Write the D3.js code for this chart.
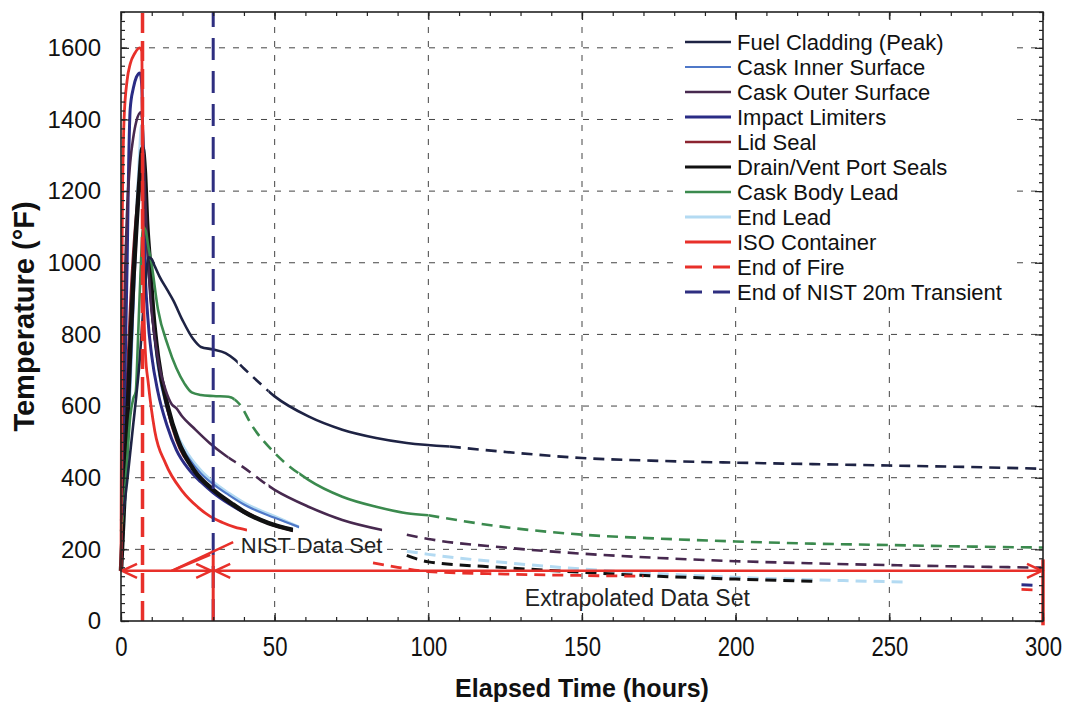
<!DOCTYPE html>
<html>
<head>
<meta charset="utf-8">
<script src="https://cdn.jsdelivr.net/npm/d3@7"></script>
<style>
  body { margin: 0; background: #fff; }
  svg { display: block; font-family: Arial, "Liberation Sans", sans-serif; }
</style>
</head>
<body>
<script>
// Cask component temperatures during / after the tunnel fire
// solid = NIST data set, dashed = extrapolated data set

// axis ticks
const xTicks = [0, 50, 100, 150, 200, 250, 300];
const yTicks = [0, 200, 400, 600, 800, 1000, 1200, 1400, 1600];

// marker hours / temperature of the data-set arrows
const endOfFireHour = 7;
const endOfNistHour = 30;
const lastHour = 300;
const arrowTemp = 140;

// [hours, temperature F]
const fuelCladding = [[0,280],[1,320],[2,390],[3,470],[4,550],[5,630],[6,720],[7,840],[8,950],[9,1015],[10,1010],[11,990],[12.5,962],[15,925],[17,895],[20,840],[23.5,787],[26,765],[30,758],[34,748],[37,730],[40,705],[45,665],[50,627],[61,571],[72,534],[83,511],[93,497],[107,487]];
const fuelCladdingExt = [[107,487],[125,472],[150,455],[175,447],[200,442],[225,438],[250,434],[275,430],[300,425]];

const caskInner = [[0,160],[1,300],[2,470],[3,660],[4,870],[5,1070],[6,1230],[7,1330],[7.6,1290],[8.3,1120],[9.3,950],[10.5,820],[12,710],[15,590],[18,515],[22,455],[26,412],[30,382],[35,352],[40,325],[50,288],[58,262]];
const caskInnerExt = [];

const caskOuter = [[0,150],[0.4,420],[0.8,700],[1.3,950],[2,1150],[3,1280],[4,1350],[5,1395],[6.5,1420],[7.1,1370],[7.8,1200],[8.6,1040],[9.6,900],[11,790],[12.5,710],[14.5,645],[16.5,605],[18,594],[20,570],[23.5,540],[28.8,497],[34,462],[39.5,431],[50,366],[61,319],[72,282],[85,254]];
const caskOuterExt = [[93,241],[100,229],[125,205],[150,188],[175,176],[200,167],[225,161],[250,156],[275,152],[300,149]];

const impactLimiters = [[0,140],[0.5,350],[1,560],[1.5,780],[2,1000],[2.5,1280],[3,1430],[4,1487],[5,1518],[6.2,1530],[6.8,1490],[7.2,1250],[7.8,1000],[8.7,850],[10,740],[12,640],[15,545],[18,478],[22,424],[26,388],[30,358],[35,328],[40,303],[48,274],[56,254]];
const impactLimitersExt = [[293,101],[297,100]];

const lidSeal = [[0,140],[0.5,280],[1,430],[2,680],[3,880],[4,1030],[5,1140],[6,1215],[7,1262],[7.8,1190],[8.8,1020],[10,870],[12,735],[15,595],[18,505],[24,420],[30,365],[36,327],[42,298],[48,272],[56,252]];
const lidSealExt = [];

const drainSeals = [[0,140],[1,330],[1.8,507],[3,760],[4,950],[5,1100],[6,1230],[7,1320],[7.8,1250],[8.5,1110],[9.3,1011],[10.5,860],[12,740],[15.3,595],[18.5,505],[24,418],[30,366],[36,328],[40,305],[48,273],[56,254]];
const drainSealsExt = [[93,183],[100,165],[125,149],[150,136],[175,125],[200,117],[225,111]];

const caskBodyLead = [[0,250],[1,330],[2,450],[3,570],[4,621],[4.8,640],[5.5,780],[6.3,960],[7.2,1100],[8,1090],[9,1040],[9.8,1005],[12,871],[15.3,768],[18,706],[20.7,662],[23,638],[26,631],[30,628],[35,626],[38.6,605],[42.8,543],[50,469],[61,394],[72,347],[83,319],[93,301],[100,295]];
const caskBodyLeadExt = [[100,295],[125,262],[150,241],[175,230],[200,222],[225,216],[250,212],[275,208],[300,205]];

const endLead = [[0,140],[1,280],[2,450],[3,650],[4,900],[5,1130],[6,1300],[6.7,1385],[7.3,1330],[8,1180],[9,980],[10.5,830],[12,722],[15,600],[18,525],[22,463],[26,420],[30,388],[35,357],[40,330],[50,292],[58,262]];
const endLeadExt = [[93,195],[100,186],[125,163],[150,145],[175,132],[200,122],[225,115],[255,109]];

const isoContainer = [[0,140],[0.15,600],[0.4,1100],[1,1400],[2,1510],[3,1555],[4.5,1585],[6,1600],[6.8,1590],[7.1,1200],[7.4,900],[8,740],[8.8,670],[11,530],[14.5,440],[20,362],[25,318],[29,292],[33,275],[37,262],[41,254]];
const isoContainerExt = [[82,162],[90,150],[100,138],[125,131],[150,127],[170,125],null,[293,88],[297,87]];

// hours where the "measured" curve is drawn dashed
const fuelCladdingGaps = [[38,48]];
const caskBodyLeadGaps = [[37,58]];
const caskOuterGaps = [[35,48]];

const series = [
  { name: "Fuel Cladding (Peak)", color: "#1e2344", width: 2.6, data: fuelCladding, ext: fuelCladdingExt, gaps: fuelCladdingGaps, z: 8 },
  { name: "Cask Inner Surface", color: "#4f78c8", width: 2.2, data: caskInner, ext: caskInnerExt, gaps: [], z: 1 },
  { name: "Cask Outer Surface", color: "#47294f", width: 2.6, data: caskOuter, ext: caskOuterExt, gaps: caskOuterGaps, z: 6 },
  { name: "Impact Limiters", color: "#2a2c85", width: 3, data: impactLimiters, ext: impactLimitersExt, gaps: [], z: 3 },
  { name: "Lid Seal", color: "#8c2430", width: 2.6, data: lidSeal, ext: lidSealExt, gaps: [], z: 2 },
  { name: "Drain/Vent Port Seals", color: "#111111", width: 4.5, data: drainSeals, ext: drainSealsExt, gaps: [], z: 5 },
  { name: "Cask Body Lead", color: "#3b8a4e", width: 2.6, data: caskBodyLead, ext: caskBodyLeadExt, gaps: caskBodyLeadGaps, z: 7 },
  { name: "End Lead", color: "#b3daf2", width: 3, data: endLead, ext: endLeadExt, gaps: [], z: 0 },
  { name: "ISO Container", color: "#e8302a", width: 2.8, data: isoContainer, ext: isoContainerExt, gaps: [], z: 9 }
];

const W = 1066, H = 703;
const svg = d3.select("body").append("svg")
  .attr("width", W)
  .attr("height", H);

const x = d3.scaleLinear().domain([0, 300]).range([121, 1043]);
const y = d3.scaleLinear().domain([0, 1700]).range([621, 12]);

// grid
const grid = svg.append("g").attr("stroke", "#444").attr("stroke-width", 1).attr("stroke-dasharray", "6,8");
grid.selectAll(".gx").data(xTicks.slice(1, -1)).enter().append("line")
  .attr("x1", d => x(d)).attr("x2", d => x(d))
  .attr("y1", y(0)).attr("y2", y(1700));
grid.selectAll(".gy").data(yTicks.slice(1)).enter().append("line")
  .attr("x1", x(0)).attr("x2", x(300))
  .attr("y1", d => y(d)).attr("y2", d => y(d));

// legend box hides the grid behind it
svg.append("rect").attr("x", 679).attr("y", 27).attr("width", 338).attr("height", 280).attr("fill", "#fff");

// curves
const line = d3.line()
  .defined(d => d)
  .x(d => x(d[0]))
  .y(d => y(d[1]))
  .curve(d3.curveMonotoneX);

const defs = svg.append("defs");
const curves = svg.append("g").attr("fill", "none").attr("stroke-linejoin", "round");

series.slice().sort((a, b) => a.z - b.z).forEach((s, i) => {
  const end = s.data[s.data.length - 1][0];
  // solid spans = [0,end] minus gaps
  const solid = [];
  let start = -5;
  s.gaps.forEach(g => { solid.push([start, g[0]]); start = g[1]; });
  solid.push([start, end]);

  const solidId = "solid" + i, dashId = "dash" + i;
  defs.append("clipPath").attr("id", solidId).selectAll("rect").data(solid).enter().append("rect")
    .attr("x", d => x(d[0])).attr("width", d => Math.max(0, x(d[1]) - x(d[0])))
    .attr("y", 0).attr("height", H);
  defs.append("clipPath").attr("id", dashId).selectAll("rect").data(s.gaps).enter().append("rect")
    .attr("x", d => x(d[0])).attr("width", d => x(d[1]) - x(d[0]))
    .attr("y", 0).attr("height", H);

  curves.append("path")
    .attr("d", line(s.data))
    .attr("stroke", s.color).attr("stroke-width", s.width)
    .attr("clip-path", `url(#${solidId})`);
  if (s.gaps.length) {
    curves.append("path")
      .attr("d", line(s.data))
      .attr("stroke", s.color).attr("stroke-width", s.width)
      .attr("stroke-dasharray", "11,7")
      .attr("clip-path", `url(#${dashId})`);
  }
  if (s.ext.length) {
    curves.append("path")
      .attr("d", line(s.ext))
      .attr("stroke", s.color).attr("stroke-width", Math.min(s.width, 3))
      .attr("stroke-dasharray", "11,7");
  }
});

// end of fire / end of NIST transient
svg.append("line")
  .attr("x1", x(endOfFireHour)).attr("x2", x(endOfFireHour))
  .attr("y1", y(0)).attr("y2", y(1700))
  .attr("stroke", "#e8302a").attr("stroke-width", 3.5).attr("stroke-dasharray", "20,8");
svg.append("line")
  .attr("x1", x(endOfNistHour)).attr("x2", x(endOfNistHour))
  .attr("y1", y(0)).attr("y2", y(1700))
  .attr("stroke", "#2e2e80").attr("stroke-width", 3).attr("stroke-dasharray", "22,11");

// data-set arrows
const red = "#e8302a";
const ann = svg.append("g").attr("stroke", red).attr("fill", "none").attr("stroke-width", 2.5);
ann.append("line").attr("x1", x(0)).attr("x2", x(lastHour)).attr("y1", y(arrowTemp)).attr("y2", y(arrowTemp));
ann.append("line").attr("x1", x(endOfNistHour)).attr("x2", x(endOfNistHour)).attr("y1", y(0)).attr("y2", y(185)).attr("stroke-width", 3);
ann.append("line").attr("x1", x(lastHour)).attr("x2", x(lastHour)).attr("y1", y(-12)).attr("y2", y(172)).attr("stroke-width", 3.5);
function head(tx, dir) {
  const ty = y(arrowTemp);
  ann.append("path")
    .attr("d", `M${tx - dir * 15},${ty - 7}L${tx},${ty}L${tx - dir * 15},${ty + 7}`)
    .attr("stroke-width", 2.5);
}
head(x(0) + 1, -1);
head(x(endOfNistHour) - 2, 1);
head(x(endOfNistHour) + 2, -1);
head(x(lastHour) - 1, 1);
// leader to the NIST label
ann.append("line").attr("x1", x(16.5)).attr("y1", y(arrowTemp)).attr("x2", x(36.5)).attr("y2", y(220));
ann.append("line").attr("x1", x(16.5)).attr("y1", y(arrowTemp)).attr("x2", x(29)).attr("y2", y(185));

svg.append("text").attr("x", x(39)).attr("y", y(212)).attr("dy", "0.35em")
  .attr("font-size", 22).attr("fill", "#222").text("NIST Data Set");
svg.append("text").attr("x", x(168)).attr("y", y(64)).attr("dy", "0.35em")
  .attr("text-anchor", "middle").attr("font-size", 23).attr("fill", "#222").text("Extrapolated Data Set");

// frame and ticks
const xMinor = d3.range(0, 301, 10);
const yMinor = d3.range(0, 1701, 25);
function styleAxis(g) {
  g.select(".domain").remove();
  g.selectAll(".tick line").attr("stroke", "#222").attr("stroke-width", 1.2);
}
svg.append("g").attr("transform", `translate(0,${y(0)})`)
  .call(d3.axisBottom(x).tickValues(xMinor).tickSize(-4).tickFormat("")).call(styleAxis);
svg.append("g").attr("transform", `translate(0,${y(1700)})`)
  .call(d3.axisTop(x).tickValues(xMinor).tickSize(-4).tickFormat("")).call(styleAxis);
svg.append("g").attr("transform", `translate(${x(0)},0)`)
  .call(d3.axisLeft(y).tickValues(yMinor).tickSize(-4).tickFormat("")).call(styleAxis);
svg.append("g").attr("transform", `translate(${x(300)},0)`)
  .call(d3.axisRight(y).tickValues(yMinor).tickSize(-4).tickFormat("")).call(styleAxis);

const xAxis = svg.append("g").attr("transform", `translate(0,${y(0)})`)
  .call(d3.axisBottom(x).tickValues(xTicks).tickSize(-8).tickPadding(16).tickFormat(d3.format("d"))).call(styleAxis);
xAxis.selectAll("text").attr("font-size", 27).attr("fill", "#111")
  .attr("transform", "scale(0.82,1)");
svg.append("g").attr("transform", `translate(0,${y(1700)})`)
  .call(d3.axisTop(x).tickValues(xTicks).tickSize(-8).tickFormat("")).call(styleAxis);
const yAxis = svg.append("g").attr("transform", `translate(${x(0)},0)`)
  .call(d3.axisLeft(y).tickValues(yTicks).tickSize(-8).tickPadding(20).tickFormat(d3.format("d"))).call(styleAxis);
yAxis.selectAll("text").attr("font-size", 24).attr("fill", "#111");
svg.append("g").attr("transform", `translate(${x(300)},0)`)
  .call(d3.axisRight(y).tickValues(yTicks).tickSize(-8).tickFormat("")).call(styleAxis);

svg.append("rect")
  .attr("x", x(0)).attr("y", y(1700))
  .attr("width", x(300) - x(0)).attr("height", y(0) - y(1700))
  .attr("fill", "none").attr("stroke", "#222").attr("stroke-width", 1.6);

// axis titles
svg.append("text")
  .attr("x", (x(0) + x(300)) / 2).attr("y", 697)
  .attr("text-anchor", "middle").attr("font-size", 25).attr("font-weight", "bold").attr("fill", "#111")
  .text("Elapsed Time (hours)");
svg.append("text")
  .attr("transform", `translate(34,${(y(0) + y(1700)) / 2}) rotate(-90)`)
  .attr("text-anchor", "middle").attr("font-size", 29).attr("font-weight", "bold").attr("fill", "#111")
  .text("Temperature (°F)");

// legend
const legendItems = series.map(s => ({ name: s.name, color: s.color, width: Math.min(s.width, 3), dash: null }))
  .concat([
    { name: "End of Fire", color: "#e8302a", width: 3, dash: "17,11" },
    { name: "End of NIST 20m Transient", color: "#2e2e80", width: 3, dash: "17,11" }
  ]);
const legend = svg.append("g").attr("transform", "translate(685,42)");
const row = legend.selectAll("g").data(legendItems).enter().append("g")
  .attr("transform", (d, i) => `translate(0,${i * 25})`);
row.append("line").attr("x1", 0).attr("x2", 46).attr("y1", 0).attr("y2", 0)
  .attr("stroke", d => d.color).attr("stroke-width", d => d.width)
  .attr("stroke-dasharray", d => d.dash);
row.append("text").attr("x", 52).attr("dy", "0.35em")
  .attr("font-size", 22).attr("fill", "#111").text(d => d.name);
</script>
</body>
</html>
